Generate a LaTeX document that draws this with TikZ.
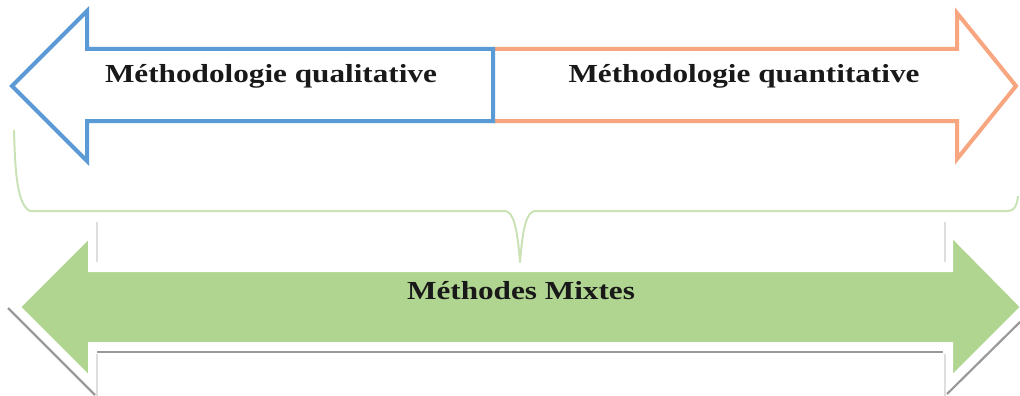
\documentclass[tikz,border=0pt]{standalone}
\usepackage{fontspec}
\usepackage{graphicx}
\setmainfont{Liberation Serif}
\definecolor{qualblue}{HTML}{5B9BD5}
\definecolor{quantorange}{HTML}{F7A67F}
\definecolor{mixgreen}{HTML}{B0D590}
\definecolor{bracegreen}{HTML}{C9E3B6}
\definecolor{shadowgray}{HTML}{9A9A9A}
\definecolor{lightgray2}{HTML}{DEDEDE}
\tikzset{
  outlinearrow/.style={line width=4pt, line join=miter, fill=white},
  labeltext/.style={anchor=base, inner sep=0pt, font=\fontsize{26}{30}\selectfont\bfseries, text=black!90},
  shadowline/.style={draw=shadowgray, line width=2.2pt},
  ghostline/.style={draw=lightgray2, line width=1.5pt},
  bracestyle/.style={draw=bracegreen, line width=2pt, line join=round}
}
\begin{document}
\begin{tikzpicture}[x=1pt,y=-1pt]
\useasboundingbox (0,0) rectangle (1020,396);
% orange (quantitative) arrow
\draw[outlinearrow, draw=quantorange] (493,49) -- (957,49) -- (957,13) -- (1016,86) -- (957,159) -- (957,121) -- (493,121);
% blue (qualitative) arrow
\draw[outlinearrow, draw=qualblue] (12,86) -- (87,11) -- (87,49) -- (493,49) -- (493,121) -- (87,121) -- (87,161) -- cycle;
\node[labeltext] (qual) at (271,82) {\scalebox{1.2}[1]{Méthodologie qualitative}};
\node[labeltext] (quant) at (744,82) {\scalebox{1.2}[1]{Méthodologie quantitative}};
% brace
\draw[bracestyle] (14,130) .. controls (15,170) and (17,205) .. (30,211) -- (505,211)
  .. controls (513,212) and (517,225) .. (520,262)
  .. controls (523,225) and (527,212) .. (535,211) -- (1008,211)
  .. controls (1014,211) and (1017,206) .. (1018,196);
% ghost lines
\draw[ghostline] (97,222) -- (97,262);
\draw[ghostline] (945,222) -- (945,262);
\draw[ghostline] (97,354) -- (97,396);
\draw[ghostline] (945,354) -- (945,396);
% shadow of mixed arrow
\draw[shadowline] (8,308) -- (95,395);
\draw[shadowline] (97,352) -- (943,352);
\draw[shadowline] (1020,322) -- (947,394);
% mixed methods arrow
\fill[mixgreen, draw=white, line width=2pt] (20,307) -- (89,238) -- (89,271) -- (952,271) -- (952,237) -- (1021,307) -- (952,376) -- (952,343) -- (89,343) -- (89,376) -- cycle;
\node[labeltext] (mix) at (521,299) {\scalebox{1.2}[1]{Méthodes Mixtes}};
\end{tikzpicture}
\end{document}
